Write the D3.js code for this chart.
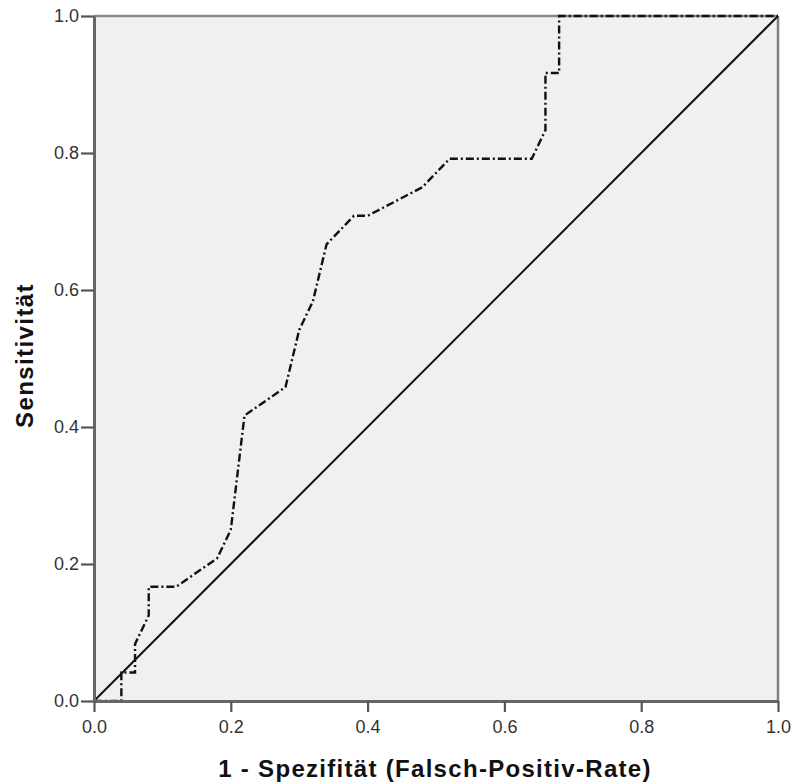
<!DOCTYPE html>
<html>
<head>
<meta charset="utf-8">
<script src="https://cdn.jsdelivr.net/npm/d3@7"></script>
<style>
  body { margin: 0; background: #fff; }
  svg text { font-family: "Liberation Sans", Arial, sans-serif; }
</style>
</head>
<body>
<svg id="chart" width="795" height="782"></svg>
<script>
// ROC-Kurve: 1 - Spezifität (x) gegen Sensitivität (y)
const fpr = [0, 0.04, 0.04, 0.06, 0.06, 0.08, 0.08, 0.12, 0.18, 0.20, 0.22, 0.28, 0.30, 0.32, 0.34, 0.38, 0.40, 0.48, 0.52, 0.64, 0.66, 0.66, 0.68, 0.68, 1.0];
const tpr = [0, 0, 0.0417, 0.0417, 0.0833, 0.125, 0.1667, 0.1667, 0.2083, 0.25, 0.4167, 0.4583, 0.5417, 0.5833, 0.6667, 0.7083, 0.7083, 0.75, 0.7917, 0.7917, 0.8333, 0.9167, 0.9167, 1.0, 1.0];
const ticks = [0, 0.2, 0.4, 0.6, 0.8, 1.0];

const svg = d3.select('#chart');
const mLeft = 94, mRight = 778, mTop = 16, mBottom = 701;

const x = d3.scaleLinear().domain([0, 1]).range([mLeft, mRight]);
const y = d3.scaleLinear().domain([0, 1]).range([mBottom, mTop]);

svg.append('rect')
  .attr('x', mLeft).attr('y', mTop)
  .attr('width', mRight - mLeft).attr('height', mBottom - mTop)
  .attr('fill', '#f0f0f0');

// Rahmen oben und rechts
svg.append('line')
  .attr('x1', mLeft).attr('x2', mRight).attr('y1', mTop).attr('y2', mTop)
  .attr('stroke', '#888').attr('stroke-width', 2.5);
svg.append('line')
  .attr('x1', mRight).attr('x2', mRight).attr('y1', mTop).attr('y2', mBottom)
  .attr('stroke', '#808080').attr('stroke-width', 2.5);

// Diagonale
svg.append('line')
  .attr('x1', x(0)).attr('y1', y(0)).attr('x2', x(1)).attr('y2', y(1))
  .attr('stroke', '#111').attr('stroke-width', 2);

const pts = fpr.map((v, i) => [v, tpr[i]]);
svg.append('path')
  .datum(pts)
  .attr('d', d3.line().x(d => x(d[0])).y(d => y(d[1])))
  .attr('fill', 'none')
  .attr('stroke', '#111')
  .attr('stroke-width', 2.4)
  .attr('stroke-dasharray', '8,3,2,3');

const xAxis = svg.append('g')
  .attr('transform', `translate(0,${mBottom})`)
  .call(d3.axisBottom(x).tickValues(ticks).tickFormat(d3.format('.1f')).tickSize(11).tickSizeOuter(0).tickPadding(8));
const yAxis = svg.append('g')
  .attr('transform', `translate(${mLeft},0)`)
  .call(d3.axisLeft(y).tickValues(ticks).tickFormat(d3.format('.1f')).tickSize(13).tickSizeOuter(0).tickPadding(2));

[xAxis, yAxis].forEach(a => {
  a.select('.domain').attr('stroke', '#666').attr('stroke-width', 3);
  a.selectAll('.tick line').attr('stroke', '#555').attr('stroke-width', 2.2);
  a.selectAll('.tick text').attr('fill', '#333').style('font-size', '18px');
});

svg.append('text')
  .attr('x', (mLeft + mRight) / 2 - 1)
  .attr('y', 777)
  .attr('text-anchor', 'middle')
  .style('font-size', '24px')
  .style('font-weight', 'bold')
  .style('letter-spacing', '1.3px')
  .attr('fill', '#111')
  .text('1 - Spezifität (Falsch-Positiv-Rate)');

svg.append('text')
  .attr('transform', `translate(33,${(mTop + mBottom) / 2 - 3}) rotate(-90)`)
  .attr('text-anchor', 'middle')
  .style('font-size', '24px')
  .style('font-weight', 'bold')
  .style('letter-spacing', '1.4px')
  .attr('fill', '#111')
  .text('Sensitivität');
</script>
</body>
</html>
